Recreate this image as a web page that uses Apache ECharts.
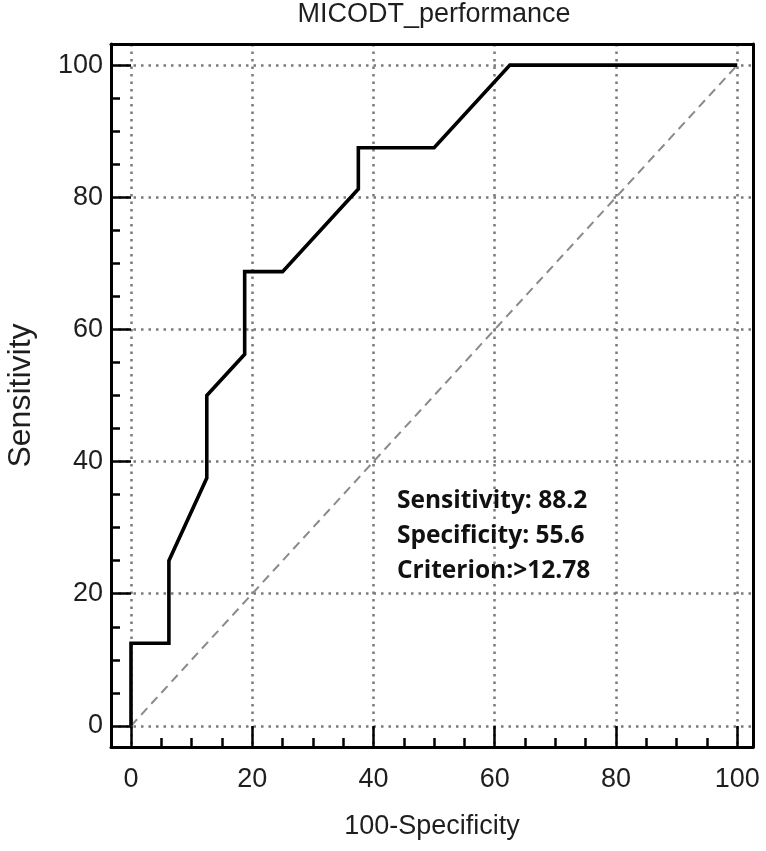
<!DOCTYPE html>
<html>
<head>
<meta charset="utf-8">
<script src="https://cdn.jsdelivr.net/npm/echarts@6/dist/echarts.min.js"></script>
<style>
html,body{margin:0;padding:0;background:#fff;}
#chart{width:766px;height:851px;}
</style>
</head>
<body>
<div id="chart"></div>
<script>
// ---- data ----
var chartTitle = 'MICODT_performance';
var xAxisName = '100-Specificity';
var yAxisName = 'Sensitivity';
var tickValues = [0, 20, 40, 60, 80, 100];
var minorTickValues = [5, 10, 15, 25, 30, 35, 45, 50, 55, 65, 70, 75, 85, 90, 95];
var rocX = [0, 0, 6.25, 6.25, 12.5, 12.5, 18.75, 18.75, 25, 37.5, 37.5, 50, 62.5, 100];
var rocY = [0, 12.5, 12.5, 25, 37.5, 50, 56.25, 68.75, 68.75, 81.25, 87.5, 87.5, 100, 100];
var refX = [0, 100];
var refY = [0, 100];
var annotationLines = ['Sensitivity: 88.2', 'Specificity: 55.6', 'Criterion:>12.78'];
// axis ranges (frame extends slightly beyond 0..100)
var xRange = [-3.3, 102.6];
var yRange = [-3.2, 103.2];

var FONT = '"Liberation Sans", Arial, sans-serif';
var TXT = '#1e1e1e';
var GRID_COLOR = '#7a7a7a';

function pairs(xs, ys) { return xs.map(function (x, i) { return [x, ys[i]]; }); }

var chart = echarts.init(document.getElementById('chart'), null, { renderer: 'canvas' });

var frameAxis = {
  type: 'value', gridIndex: 0,
  axisLine: { show: true, onZero: false, lineStyle: { color: '#000', width: 3 } },
  axisTick: { show: false }, axisLabel: { show: false }, splitLine: { show: false }
};

var option = {
  animation: false,
  backgroundColor: '#fff',
  title: {
    text: chartTitle,
    left: 434, top: 1, padding: 0,
    textAlign: 'center',
    textStyle: { fontFamily: FONT, fontSize: 27, fontWeight: 'normal', color: TXT }
  },
  grid: { left: 111, right: 13, top: 44, bottom: 104, containLabel: false, outerBoundsMode: 'none' },
  xAxis: [
    {
      type: 'value', position: 'bottom', min: xRange[0], max: xRange[1],
      name: xAxisName, nameLocation: 'middle', nameGap: 66,
      nameTextStyle: { fontFamily: FONT, fontSize: 27, color: TXT },
      axisLine: { show: true, onZero: false, lineStyle: { color: '#000', width: 3 } },
      axisTick: { show: true, inside: true, length: 21, customValues: tickValues, lineStyle: { color: '#000', width: 2.5 } },
      axisLabel: { show: true, margin: 19, customValues: tickValues, fontFamily: FONT, fontSize: 27, color: TXT },
      splitLine: { show: true, lineStyle: { color: GRID_COLOR, width: 2.5, type: [2.5, 5] } }
    },
    {
      type: 'value', position: 'bottom', min: xRange[0], max: xRange[1],
      axisLine: { show: false, onZero: false },
      axisTick: { show: true, inside: true, length: 9, customValues: minorTickValues, lineStyle: { color: '#000', width: 2.5 } },
      axisLabel: { show: false }, splitLine: { show: false }
    },
    Object.assign({}, frameAxis, { position: 'top', min: xRange[0], max: xRange[1] })
  ],
  yAxis: [
    {
      type: 'value', position: 'left', min: yRange[0], max: yRange[1],
      name: yAxisName, nameLocation: 'middle', nameGap: 74, nameRotate: 90,
      nameTextStyle: { fontFamily: FONT, fontSize: 32, color: TXT },
      axisLine: { show: true, onZero: false, lineStyle: { color: '#000', width: 3 } },
      axisTick: { show: true, inside: true, length: 20, customValues: tickValues, lineStyle: { color: '#000', width: 2.5 } },
      axisLabel: { show: true, margin: 8, customValues: tickValues, fontFamily: FONT, fontSize: 27, color: TXT },
      splitLine: { show: true, lineStyle: { color: GRID_COLOR, width: 2.5, type: [2.5, 5] } }
    },
    {
      type: 'value', position: 'left', min: yRange[0], max: yRange[1],
      axisLine: { show: false, onZero: false },
      axisTick: { show: true, inside: true, length: 9, customValues: minorTickValues, lineStyle: { color: '#000', width: 2.5 } },
      axisLabel: { show: false }, splitLine: { show: false }
    },
    Object.assign({}, frameAxis, { position: 'right', min: yRange[0], max: yRange[1] })
  ],
  graphic: [
    {
      type: 'text', left: 397, top: 484, z: 100,
      style: {
        text: annotationLines.join('\n'),
        font: 'bold 24.5px "Open Sans", "Noto Sans", sans-serif',
        lineHeight: 35, fill: '#111'
      }
    }
  ],
  series: [
    {
      type: 'line', name: 'reference', xAxisIndex: 0, yAxisIndex: 0,
      data: pairs(refX, refY), symbol: 'none', z: 3,
      lineStyle: { color: '#8a8a8a', width: 2, type: [9, 6] }
    },
    {
      type: 'line', name: 'ROC', xAxisIndex: 0, yAxisIndex: 0,
      data: pairs(rocX, rocY), symbol: 'none', z: 4,
      lineStyle: { color: '#000', width: 3.6, join: 'miter' }
    }
  ]
};
chart.setOption(option);
</script>
</body>
</html>
